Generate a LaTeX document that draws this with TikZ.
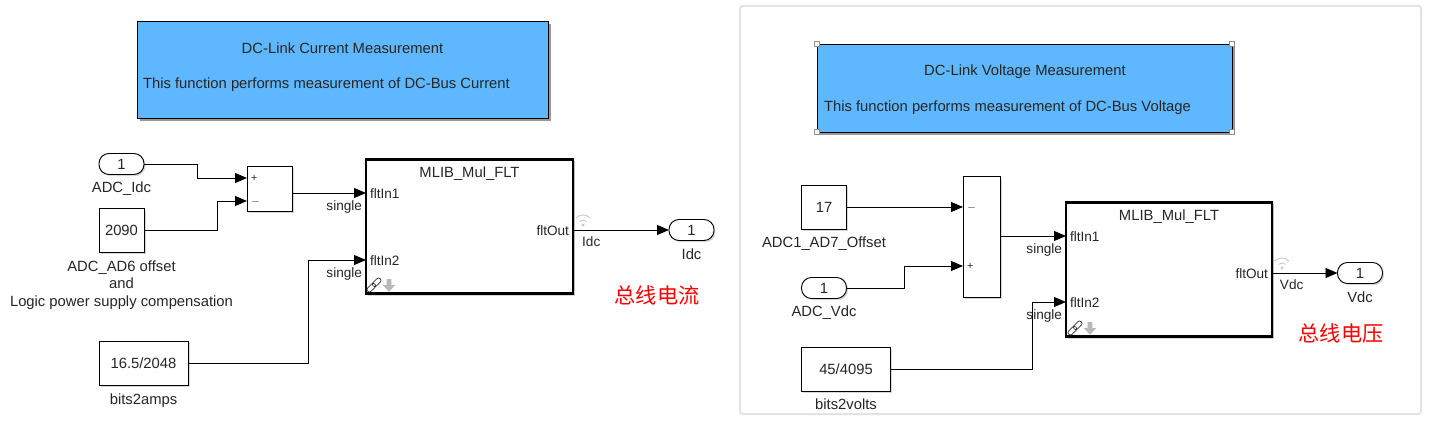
\documentclass[tikz,border=0pt]{standalone}
\usepackage{fontspec}
\setmainfont{Liberation Sans}
\newfontfamily\cjkfont{Noto Sans CJK SC}
\usepackage{tikz}
\usetikzlibrary{positioning,shadows,arrows.meta}
\newcommand{\pxu}{0.75pt}
\definecolor{notefill}{RGB}{95,184,255}
\tikzstyle{every node}=[font=\fontsize{11.1}{13.1}\selectfont, inner sep=0pt, outer sep=0pt, text=black!85]
\tikzstyle{block} = [draw, rectangle, fill=white, line width=0.7pt, drop shadow={shadow xshift=1.2pt, shadow yshift=-1.2pt, opacity=0.3}]
\tikzstyle{const} = [block, minimum width=45*\pxu, minimum height=44*\pxu]
\tikzstyle{wideconst} = [block, minimum width=89*\pxu, minimum height=44*\pxu]
\tikzstyle{port} = [block, rounded corners=7.5pt, minimum width=45*\pxu, minimum height=21*\pxu]
\tikzstyle{mulblk} = [block, line width=2pt, minimum width=206*\pxu, minimum height=134*\pxu, drop shadow={shadow xshift=1.5pt, shadow yshift=-1.5pt, opacity=0.3}]
\tikzstyle{note} = [draw, rectangle, fill=notefill, line width=0.7pt, drop shadow={shadow xshift=2.4pt, shadow yshift=-2.4pt, opacity=0.8}]
\tikzstyle{handle} = [draw=black!45, fill=white, line width=0.6pt, minimum size=5*\pxu]
\tikzstyle{pin} = [anchor=west, inner xsep=4*\pxu, font=\fontsize{10.2}{12}\selectfont, text height=8.6pt, text depth=0pt]
\tikzstyle{pout} = [anchor=east, inner xsep=4*\pxu, font=\fontsize{10.2}{12}\selectfont, text height=8.6pt, text depth=0pt]
\tikzstyle{sign} = [anchor=west, inner xsep=4*\pxu, font=\fontsize{8}{9}\selectfont, text height=5pt, text depth=0pt]
\tikzstyle{tag} = [font=\fontsize{10.2}{12}\selectfont]
\tikzstyle{sig} = [line width=0.65pt, -{Triangle[length=9pt, width=7.5pt]}]
\tikzstyle{hint} = [font=\cjkfont\fontsize{15.9}{18}\selectfont, text=red]
\tikzset{
	wifi/.pic={
		\fill[black!22] (0,0) circle (1.2pt);
		\draw[black!22, line width=0.6pt] (45:3.8pt) arc[start angle=45, end angle=135, radius=3.8pt];
		\draw[black!22, line width=0.6pt] (45:7.5pt) arc[start angle=45, end angle=135, radius=7.5pt];
	},
	linkmark/.pic={
		\draw[black!80, line width=0.55pt, rotate=45, rounded corners=1.6pt] (-6.6pt,-1.8pt) rectangle (0.9pt,1.8pt);
		\draw[black!80, line width=0.55pt, rotate=45, rounded corners=1.6pt] (-0.9pt,-1.8pt) rectangle (6.6pt,1.8pt);
		\fill[black!28] (9.5pt,4.5pt) -- (13pt,4.5pt) -- (13pt,0pt) -- (16pt,0pt) -- (11.25pt,-5pt) -- (6.5pt,0pt) -- (9.5pt,0pt) -- cycle;
	},
}
\begin{document}
\begin{tikzpicture}[x=\pxu, y=-\pxu]
		\fill[white, use as bounding box] (0,0) rectangle (1442,431);
		\node [draw=black!11, fill=white, line width=1.5pt, rounded corners=2pt, minimum width=681*\pxu, minimum height=408*\pxu] (panel) at (1080.5,210) {};

		\node [note, minimum width=411*\pxu, minimum height=97*\pxu] (noteI) at (342.5,69.5) {};
		\node (noteIa) at (342.5,48.5) {DC-Link Current Measurement};
		\node [anchor=west] (noteIb) at (143,84.5) {This function performs measurement of DC-Bus Current};

		\node [port] (inI) at (121.5,164) {1};
		\node [below=7.5*\pxu of inI] (inIname) {ADC\_Idc};
		\node [const] (offI) at (121.5,230) {2090};
		\node [below=8.5*\pxu of offI, align=center] (offIname) {ADC\_AD6 offset\\and\\Logic power supply compensation};
		\node [wideconst] (gainI) at (143.5,363.5) {16.5/2048};
		\node [below=8*\pxu of gainI] (gainIname) {bits2amps};
		\node [block, minimum width=45*\pxu, minimum height=45*\pxu] (sumI) at (269.5,189) {};
		\node [sign] (plusI) at (sumI.west |- 0,178) {+};
		\node [sign] (minusI) at (sumI.west |- 0,201) {$-$};
		\node [mulblk, minimum width=207*\pxu, minimum height=134*\pxu] (mulI) at (469.5,226.5) {};
		\node [below=7*\pxu of mulI.north] (mulIname) {MLIB\_Mul\_FLT};
		\node [pin] (mulIa) at (mulI.west |- 0,193) {fltIn1};
		\node [pin] (mulIb) at (mulI.west |- 0,260) {fltIn2};
		\node [pout] (mulIo) at (mulI.east |- 0,230) {fltOut};
		\node [port] (outI) at (691.5,230) {1};
		\node [below=8*\pxu of outI] (outIname) {Idc};
		\node [hint] (hintI) at (657,295) {总线电流};

		\draw [sig] (inI.east) -- ++(53,0) |- (plusI.west);
		\draw [sig] (offI.east) -- ++(73,0) |- (minusI.west);
		\draw [sig] (sumI.east |- mulIa) -- (mulIa.west) node [tag, pos=1, anchor=north east, xshift=-3pt, yshift=-6pt] (sigIa) {single};
		\draw [sig] (gainI.east) -- ++(120,0) |- (mulIb.west) node [tag, pos=1, anchor=north east, xshift=-3pt, yshift=-6pt] (sigIb) {single};
		\draw [sig] (mulIo.east) -- (outI.west) node [tag, pos=0.19, anchor=north, yshift=-5pt] (sigIo) {Idc};

		\pic at (583,225) {wifi};
		\pic at (374,285) {linkmark};

		\node [note, minimum width=415*\pxu, minimum height=88*\pxu] (noteV) at (1024.5,88) {};
		\node (noteVa) at (1025,71.5) {DC-Link Voltage Measurement};
		\node [anchor=west] (noteVb) at (824,107.5) {This function performs measurement of DC-Bus Voltage};
		\node [handle] at (noteV.north west) {};
		\node [handle] at (noteV.north east) {};
		\node [handle] at (noteV.south west) {};
		\node [handle] at (noteV.south east) {};

		\node [const] (offV) at (824,207) {17};
		\node [below=7.5*\pxu of offV] (offVname) {ADC1\_AD7\_Offset};
		\node [port] (inV) at (824,288) {1};
		\node [below=7.5*\pxu of inV] (inVname) {ADC\_Vdc};
		\node [wideconst] (gainV) at (846,369) {45/4095};
		\node [below=8*\pxu of gainV] (gainVname) {bits2volts};
		\node [block, minimum width=37*\pxu, minimum height=121*\pxu] (sumV) at (981.5,236.5) {};
		\node [sign] (minusV) at (sumV.west |- 0,207) {$-$};
		\node [sign] (plusV) at (sumV.west |- 0,266) {+};
		\node [mulblk] (mulV) at (1169,269.5) {};
		\node [below=7*\pxu of mulV.north] (mulVname) {MLIB\_Mul\_FLT};
		\node [pin] (mulVa) at (mulV.west |- 0,236) {fltIn1};
		\node [pin] (mulVb) at (mulV.west |- 0,302) {fltIn2};
		\node [pout] (mulVo) at (mulV.east |- 0,273) {fltOut};
		\node [port] (outV) at (1360,273) {1};
		\node [below=8*\pxu of outV] (outVname) {Vdc};
		\node [hint] (hintV) at (1341,333) {总线电压};

		\draw [sig] (offV.east) -- (minusV.west);
		\draw [sig] (inV.east) -- ++(58,0) |- (plusV.west);
		\draw [sig] (sumV.east |- mulVa) -- (mulVa.west) node [tag, pos=1, anchor=north east, xshift=-3pt, yshift=-6pt] (sigVa) {single};
		\draw [sig] (gainV.east) -- ++(142,0) |- (mulVb.west) node [tag, pos=1, anchor=north east, xshift=-3pt, yshift=-6pt] (sigVb) {single};
		\draw [sig] (mulVo.east) -- (outV.west) node [tag, pos=0.3, anchor=north, yshift=-5pt] (sigVo) {Vdc};

		\pic at (1282,268) {wifi};
		\pic at (1075,328) {linkmark};
	\end{tikzpicture}
\end{document}
